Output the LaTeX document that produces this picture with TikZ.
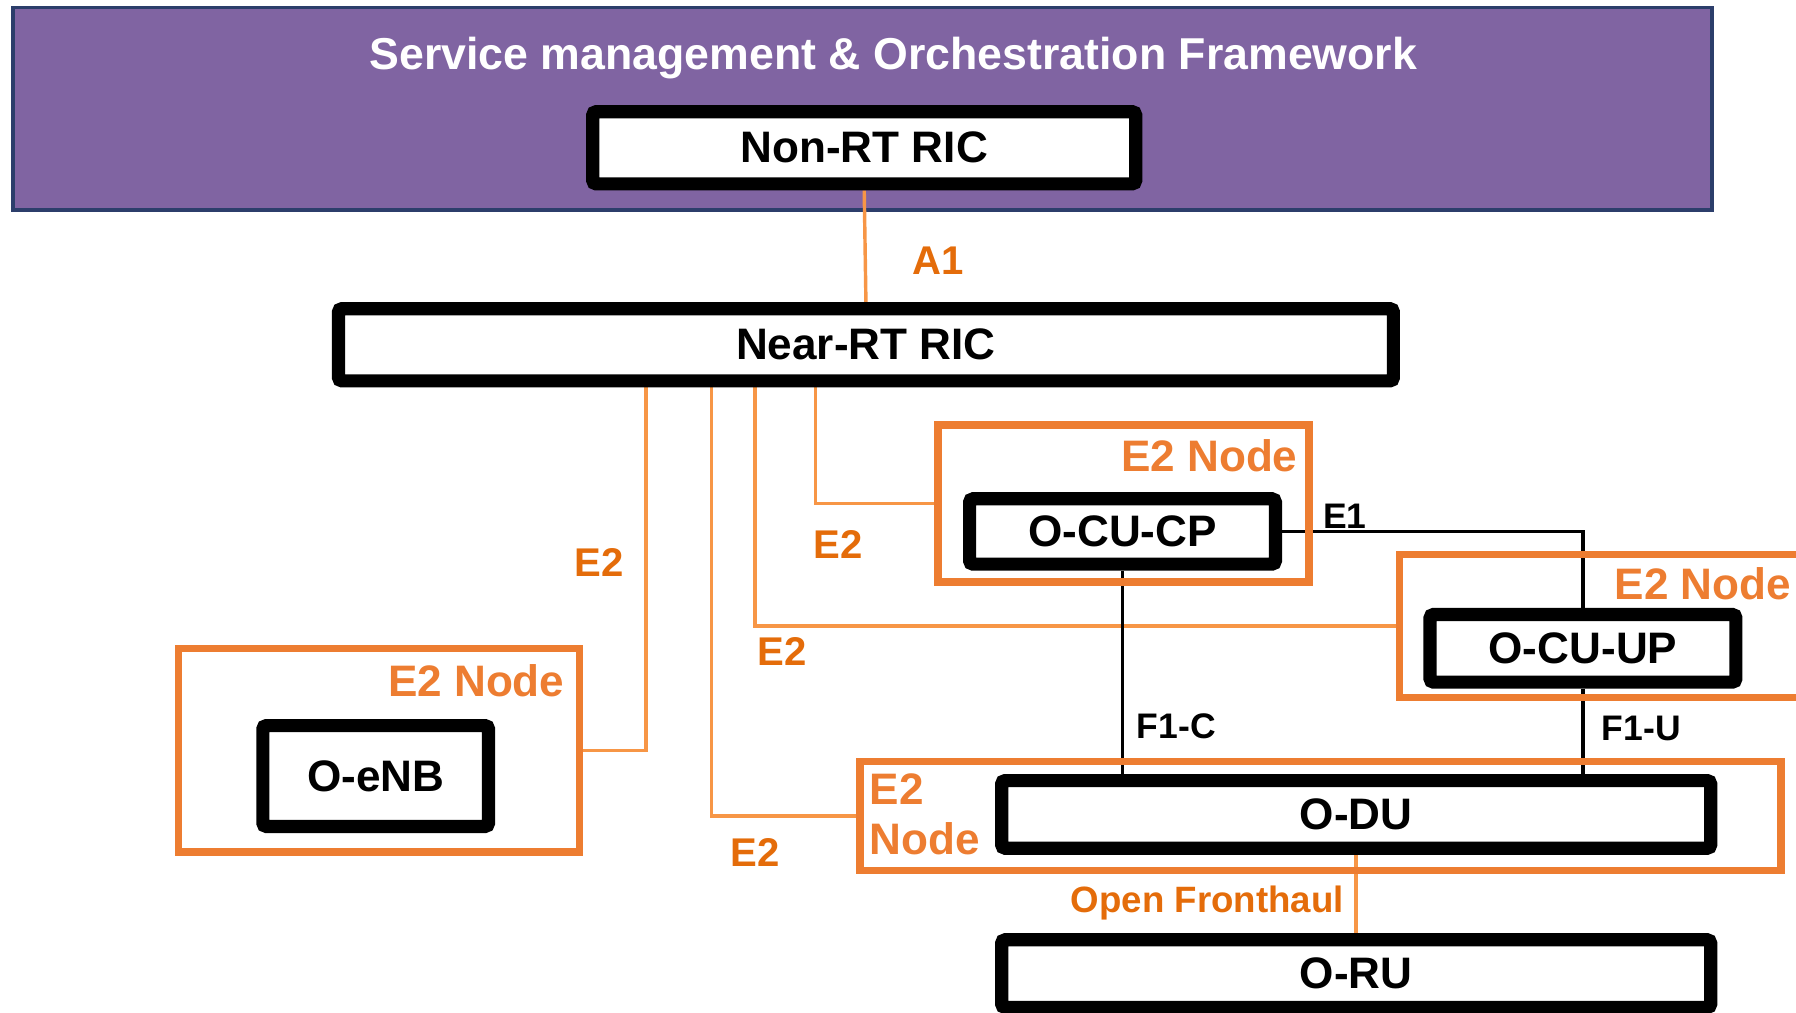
\documentclass[tikz,border=0pt]{standalone}
\usepackage{fontspec}
\setmainfont{Liberation Sans}
\usetikzlibrary{positioning}
\definecolor{smopurple}{HTML}{8064A2}
\definecolor{smoborder}{HTML}{2C3E6B}
\definecolor{nodeorange}{HTML}{ED7D31}
\definecolor{lineorange}{HTML}{F79646}
\definecolor{labelorange}{HTML}{E46C0A}
\pgfdeclarelayer{bg}
\pgfdeclarelayer{lines}
\pgfsetlayers{bg,lines,main}
\tikzset{
  blackbox/.style={draw=black, line width=11.5pt, fill=white, rounded corners=3pt, inner sep=0pt,
     font=\fontsize{38.5}{42}\selectfont\bfseries, text=black},
  e2box/.style={draw=nodeorange, line width=6.5pt, inner sep=0pt},
  e2line/.style={draw=lineorange, line width=3pt},
  blkline/.style={draw=black, line width=3pt},
  e2lbl/.style={text=labelorange, font=\fontsize{35}{40}\selectfont\bfseries, inner sep=0pt},
  nodelbl/.style={text=nodeorange, font=\fontsize{38.5}{43}\selectfont\bfseries, inner sep=0pt},
  blklbl/.style={text=black, font=\fontsize{31}{34}\selectfont\bfseries, inner sep=0pt}
}
\begin{document}
\begin{tikzpicture}[x=1pt,y=-1pt]
\useasboundingbox (0,0) rectangle (1568,884);
\clip (0,0) rectangle (1568,884);
% SMO frame
\begin{pgfonlayer}{bg}
\node[draw=smoborder, fill=smopurple, line width=3pt, minimum width=1483pt, minimum height=177pt, inner sep=0pt] (smo) at (753,95) {};
\end{pgfonlayer}
\node[text=white, font=\fontsize{39}{42}\selectfont\bfseries, inner sep=0pt, anchor=base] (title) at (780,61) {Service management \& Orchestration Framework};
% main boxes
\node[blackbox, minimum width=474pt, minimum height=63pt] (nonrt) at (754.5,129) {Non-RT RIC};
\node[blackbox, minimum width=921pt, minimum height=63pt] (nearrt) at (756,301) {Near-RT RIC};
\node[blackbox, minimum width=197pt, minimum height=88pt] (enb) at (328,677.5) {O-eNB};
\node[blackbox, minimum width=267pt, minimum height=57pt] (cp) at (980,464) {O-CU-CP};
\node[blackbox, minimum width=267pt, minimum height=59pt] (up) at (1382,566) {O-CU-UP};
\node[blackbox, minimum width=619pt, minimum height=59pt] (du) at (1184,711) {O-DU};
\node[blackbox, minimum width=619pt, minimum height=59pt] (ru) at (1184,850) {O-RU};
% E2 node frames
\node[e2box, minimum width=350pt, minimum height=178pt] (e2enb) at (331,655) {};
\node[e2box, minimum width=324pt, minimum height=137pt] (e2cp) at (981,439.5) {};
\node[e2box, minimum width=358pt, minimum height=125pt] (e2up) at (1401,546.5) {};
\node[e2box, minimum width=804pt, minimum height=95pt] (e2du) at (1153,712.5) {};
% tap coordinates on Near-RT RIC
\coordinate (t1) at (564,0);
\coordinate (t2) at (621,0);
\coordinate (t3) at (659,0);
\coordinate (t4) at (712,0);
% connectors
\begin{pgfonlayer}{lines}
\draw[e2line] (nonrt.south) -- (nearrt.north);
\draw[e2line] (nearrt.south -| t1) |- (e2enb.east);
\draw[e2line] (nearrt.south -| t2) |- (e2du.west);
\draw[e2line] (nearrt.south -| t3) |- (e2up.west);
\draw[e2line] (nearrt.south -| t4) |- (e2cp.west);
\draw[e2line] (du.south) -- (ru.north);
\draw[blkline] (cp.east) -| (up.north);
\draw[blkline] (cp.south) -- (cp.south |- du.north);
\draw[blkline] (up.south) -- (up.south |- du.north);
\end{pgfonlayer}
% labels
\node[e2lbl] (la1) at (819,228) {A1};
\node[e2lbl] (le2a) at (523,491) {E2};
\node[e2lbl] (le2b) at (732,475) {E2};
\node[e2lbl] (le2c) at (683,569) {E2};
\node[e2lbl] (le2d) at (659,744) {E2};
\node[nodelbl, anchor=east] (ln1) at (1133,398) {E2 Node};
\node[nodelbl, anchor=east] (ln2) at (493,594) {E2 Node};
\node[nodelbl, anchor=east] (ln3) at (1564,510) {E2 Node};
\node[nodelbl, anchor=west, align=left] (ln4) at (759,711) {E2\\Node};
\node[blklbl] (le1) at (1174,451) {E1};
\node[blklbl] (lf1c) at (1027,634) {F1-C};
\node[blklbl] (lf1u) at (1433,636) {F1-U};
\node[e2lbl, font=\fontsize{32}{34}\selectfont\bfseries, anchor=base] (lofh) at (1054,797) {Open Fronthaul};
\end{tikzpicture}
\end{document}
